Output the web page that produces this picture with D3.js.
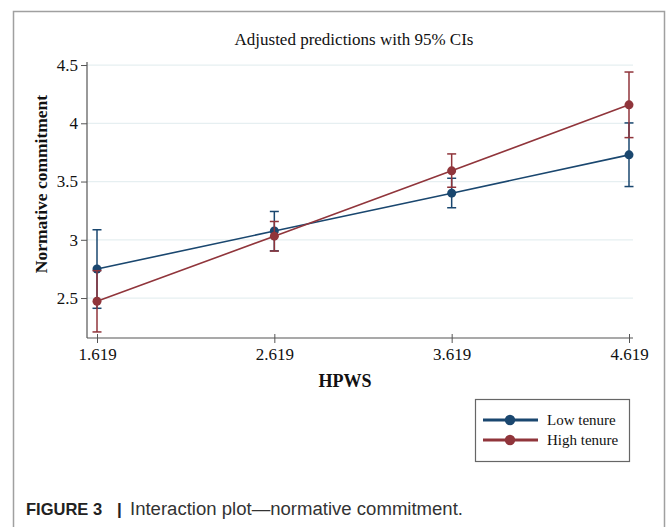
<!DOCTYPE html>
<html>
<head>
<meta charset="utf-8">
<script src="https://cdn.jsdelivr.net/npm/d3@7"></script>
<style>
  html, body { margin: 0; padding: 0; background: #fff; }
  svg { display: block; }
  .tick text { font-family: 'Liberation Serif', 'Times New Roman', serif; font-size: 17px; fill: #111; }
</style>
</head>
<body>
<svg id="chart" width="668" height="527"></svg>
<script>
// ---- data ----
const xValues = [1.619, 2.619, 3.619, 4.619];
const xTickLabels = ["1.619", "2.619", "3.619", "4.619"];
const yTicks = [2.5, 3, 3.5, 4, 4.5];
const yTickLabels = ["2.5", "3", "3.5", "4", "4.5"];
const seriesNames = ["Low tenure", "High tenure"];
const lowMean = [2.749, 3.075, 3.400, 3.729];
const lowLower = [2.412, 2.905, 3.275, 3.457];
const lowUpper = [3.086, 3.243, 3.528, 4.003];
const highMean = [2.472, 3.031, 3.592, 4.158];
const highLower = [2.209, 2.903, 3.451, 3.877];
const highUpper = [2.735, 3.157, 3.737, 4.440];
const titleText = "Adjusted predictions with 95% CIs";
const xTitle = "HPWS";
const yTitle = "Normative commitment";

const colors = ["#1a476f", "#90353b"];
const series = [
  { name: seriesNames[0], mean: lowMean, lo: lowLower, hi: lowUpper, color: colors[0] },
  { name: seriesNames[1], mean: highMean, lo: highLower, hi: highUpper, color: colors[1] }
];

const svg = d3.select("#chart");
const serif = "'Liberation Serif', 'Times New Roman', serif";
const sans = "'Liberation Sans', Arial, Helvetica, sans-serif";

// outer frame
svg.append("path")
  .attr("d", "M13.5,527 L13.5,11.5 L664.5,11.5 L664.5,527")
  .attr("fill", "none").attr("stroke", "#a0a0a0").attr("stroke-width", 1.5);

// scales
const x = d3.scaleLinear().domain([1.619, 4.619]).range([97, 629]);
const y = d3.scaleLinear().domain([2.157, 4.526]).range([338, 62]);
const plotLeft = 87, plotRight = 633, plotTop = 62, plotBottom = 338;

// gridlines
svg.append("g").selectAll("line").data(yTicks).join("line")
  .attr("x1", plotLeft).attr("x2", plotRight)
  .attr("y1", d => y(d)).attr("y2", d => y(d))
  .attr("stroke", "#e6eff1").attr("stroke-width", 1.2);

// y axis
const yAxis = d3.axisLeft(y).tickValues(yTicks).tickFormat((d, i) => yTickLabels[i]).tickSize(6).tickPadding(3);
const gy = svg.append("g").attr("transform", `translate(${plotLeft},0)`).call(yAxis);
gy.attr("font-size", null).attr("font-family", null);
gy.select(".domain").remove();
gy.selectAll(".tick line").attr("stroke", "#555");
svg.append("line").attr("x1", plotLeft).attr("x2", plotLeft).attr("y1", plotTop).attr("y2", plotBottom)
  .attr("stroke", "#555").attr("stroke-width", 1.2);

// x axis
const xAxis = d3.axisBottom(x).tickValues(xValues).tickFormat((d, i) => xTickLabels[i]).tickSize(5).tickPadding(5);
const gx = svg.append("g").attr("transform", `translate(0,${plotBottom})`).call(xAxis);
gx.attr("font-size", null).attr("font-family", null);
gx.select(".domain").remove();
gx.selectAll(".tick line").attr("stroke", "#555").attr("y1", -4);
svg.append("line").attr("x1", plotLeft).attr("x2", plotRight).attr("y1", plotBottom).attr("y2", plotBottom)
  .attr("stroke", "#555").attr("stroke-width", 1.2);

// title & axis titles
svg.append("text").attr("x", 354).attr("y", 45).attr("text-anchor", "middle")
  .attr("font-family", serif).attr("font-size", 17).attr("fill", "#111").text(titleText);
svg.append("text").attr("x", 345).attr("y", 387).attr("text-anchor", "middle")
  .attr("font-family", serif).attr("font-size", 18).attr("font-weight", "bold").attr("fill", "#111").text(xTitle);
svg.append("text").attr("transform", `translate(47,184) rotate(-90)`)
  .attr("text-anchor", "middle")
  .attr("font-family", serif).attr("font-size", 17.5).attr("font-weight", "bold").attr("fill", "#111").text(yTitle);

// series
const capW = 4.5;
series.forEach(s => {
  const g = svg.append("g");
  const idx = d3.range(xValues.length);
  g.selectAll("line.ci").data(idx).join("line").attr("class", "ci")
    .attr("x1", i => x(xValues[i])).attr("x2", i => x(xValues[i]))
    .attr("y1", i => y(s.lo[i])).attr("y2", i => y(s.hi[i]))
    .attr("stroke", s.color).attr("stroke-width", 1.5);
  g.selectAll("line.caphi").data(idx).join("line").attr("class", "caphi")
    .attr("x1", i => x(xValues[i]) - capW).attr("x2", i => x(xValues[i]) + capW)
    .attr("y1", i => y(s.hi[i])).attr("y2", i => y(s.hi[i]))
    .attr("stroke", s.color).attr("stroke-width", 1.5);
  g.selectAll("line.caplo").data(idx).join("line").attr("class", "caplo")
    .attr("x1", i => x(xValues[i]) - capW).attr("x2", i => x(xValues[i]) + capW)
    .attr("y1", i => y(s.lo[i])).attr("y2", i => y(s.lo[i]))
    .attr("stroke", s.color).attr("stroke-width", 1.5);
  const line = d3.line().x(i => x(xValues[i])).y(i => y(s.mean[i]));
  g.append("path").datum(idx).attr("d", line)
    .attr("fill", "none").attr("stroke", s.color).attr("stroke-width", 1.6);
  g.selectAll("circle").data(idx).join("circle")
    .attr("cx", i => x(xValues[i])).attr("cy", i => y(s.mean[i])).attr("r", 4.5)
    .attr("fill", s.color);
});

// legend
const lg = svg.append("g");
lg.append("rect").attr("x", 475.5).attr("y", 399.5).attr("width", 154).attr("height", 62)
  .attr("fill", "#fff").attr("stroke", "#666").attr("stroke-width", 1.2);
series.forEach((s, i) => {
  const cy = 420 + i * 20;
  lg.append("line").attr("x1", 483).attr("x2", 538).attr("y1", cy).attr("y2", cy)
    .attr("stroke", s.color).attr("stroke-width", 3.2);
  lg.append("circle").attr("cx", 510).attr("cy", cy).attr("r", 5.2).attr("fill", s.color);
  lg.append("text").attr("x", 547).attr("y", cy + 5).attr("font-family", serif).attr("font-size", 15)
    .attr("fill", "#111").text(s.name);
});

// caption
svg.append("text").attr("x", 26).attr("y", 515).attr("font-family", sans).attr("font-size", 16.5)
  .attr("font-weight", "bold").attr("fill", "#222").text("FIGURE 3");
svg.append("text").attr("x", 117).attr("y", 515).attr("font-family", sans).attr("font-size", 17)
  .attr("font-weight", "bold").attr("fill", "#222").text("|");
svg.append("text").attr("x", 130).attr("y", 515).attr("font-family", sans).attr("font-size", 18)
  .attr("fill", "#333").attr("textLength", 333).attr("lengthAdjust", "spacingAndGlyphs")
  .text("Interaction plot\u2014normative commitment.");
</script>
</body>
</html>
